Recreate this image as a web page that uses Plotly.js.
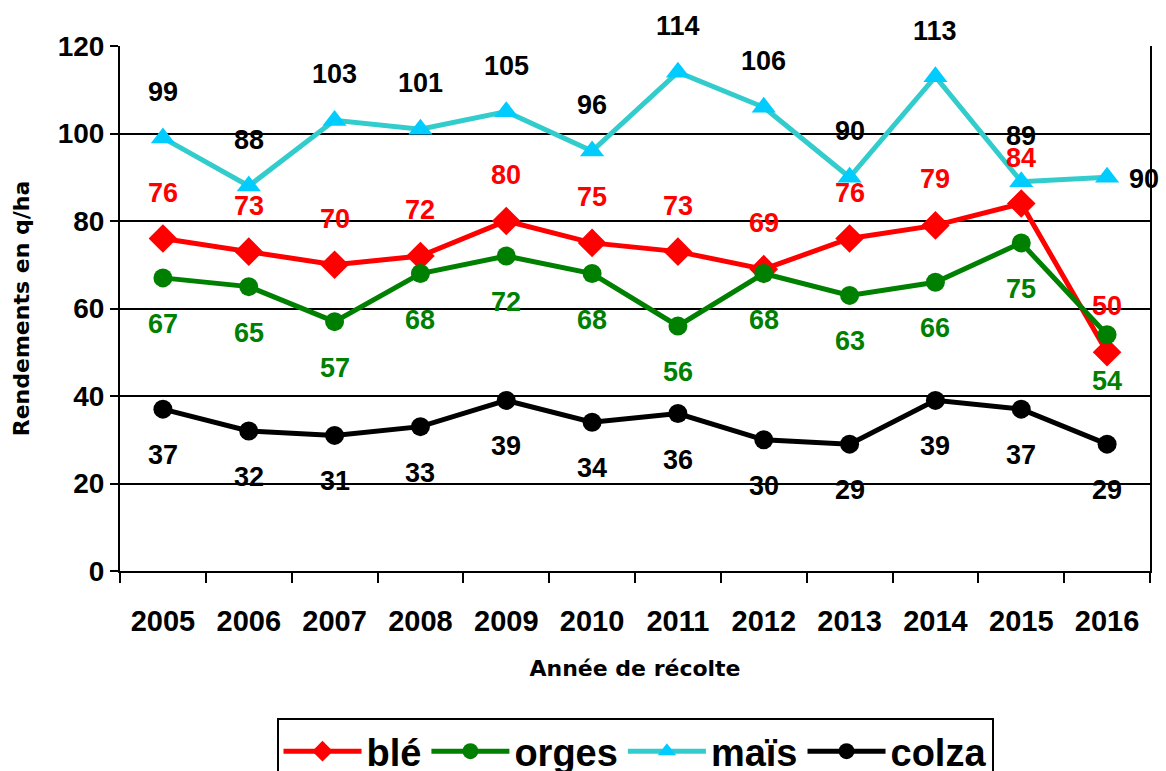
<!DOCTYPE html>
<html>
<head>
<meta charset="utf-8">
<script src="https://cdn.plot.ly/plotly-3.0.1.min.js"></script>
<style>
html,body{margin:0;padding:0;background:#fff;}
#chart{width:1166px;height:771px;}
</style>
</head>
<body>
<div id="chart"></div>
<script>
// ---- data ----
const years = ['2005','2006','2007','2008','2009','2010','2011','2012','2013','2014','2015','2016'];
const ble   = [76,73,70,72,80,75,73,69,76,79,84,50];
const orges = [67,65,57,68,72,68,56,68,63,66,75,54];
const mais  = [99,88,103,101,105,96,114,106,90,113,89,90];
const colza = [37,32,31,33,39,34,36,30,29,39,37,29];
const seriesNames = ['blé','orges','maïs','colza'];

// ---- styles ----
const FONT = 'Liberation Sans, Arial, sans-serif';
const TFONT = 'DejaVu Sans, Verdana, sans-serif';
const LBL = 27;

const traces = [
  {name: seriesNames[0], x: years, y: ble, mode: 'lines+markers',
   line: {color: '#FF0000', width: 5},
   marker: {symbol: 'diamond', size: 22, color: '#FF0000'}},
  {name: seriesNames[1], x: years, y: orges, mode: 'lines+markers',
   line: {color: '#008000', width: 5},
   marker: {symbol: 'circle', size: 19, color: '#008000'}},
  {name: seriesNames[2], x: years, y: mais, mode: 'lines+markers',
   line: {color: '#33CCCC', width: 5},
   marker: {symbol: 'triangle-up', size: 21, color: '#00CCFF'}},
  {name: seriesNames[3], x: years, y: colza, mode: 'lines+markers',
   line: {color: '#000000', width: 5},
   marker: {symbol: 'circle', size: 19, color: '#000000'}}
];

// data labels (annotations on the category axis: x = category serial number)
const annotations = [];
function addLabels(vals, color, shift, lastRight) {
  vals.forEach((v, i) => {
    const isLastRight = lastRight && i === vals.length - 1;
    annotations.push({
      x: i, y: v, xref: 'x', yref: 'y', text: String(v), showarrow: false,
      font: {family: FONT, size: LBL, color: color, weight: 'bold'},
      xanchor: isLastRight ? 'left' : 'center', yanchor: 'middle',
      xshift: isLastRight ? 20 : 0, yshift: isLastRight ? -2 : shift
    });
  });
}
addLabels(mais, '#000000', 46, true);
addLabels(ble, '#FF0000', 46, false);
addLabels(orges, '#008000', -46, false);
addLabels(colza, '#000000', -46, false);

const layout = {
  width: 1166, height: 771,
  margin: {l: 120, r: 16, t: 46, b: 200, autoexpand: false},
  paper_bgcolor: '#fff', plot_bgcolor: '#fff',
  font: {family: FONT, color: '#000'},
  showlegend: true,
  legend: {
    orientation: 'h', x: 0.5, xanchor: 'center', y: -0.28, yanchor: 'top',
    bordercolor: '#000', borderwidth: 2, bgcolor: '#fff',
    font: {family: FONT, size: 38, color: '#000', weight: 'bold'},
    itemwidth: 78, tracegroupgap: 0
  },
  xaxis: {
    type: 'category', tickson: 'boundaries', ticks: 'outside', ticklen: 10, tickcolor: '#000', tickwidth: 2,
    showline: true, linecolor: '#000', linewidth: 2, showgrid: false, zeroline: false,
    tickfont: {family: FONT, size: 29, color: '#000', weight: 'bold'}, tickangle: 0,
    ticklabelstandoff: 23,
    title: {text: 'Année de récolte', font: {family: TFONT, size: 22, color: '#000', weight: 'bold'}, standoff: 25},
    range: [-0.5, 11.5], fixedrange: true
  },
  yaxis: {
    range: [0, 120], dtick: 20, ticks: 'outside', ticklen: 8, tickcolor: '#000', tickwidth: 2,
    showline: true, linecolor: '#000', linewidth: 2, mirror: true,
    showgrid: true, gridcolor: '#000', gridwidth: 1.5, zeroline: false,
    tickfont: {family: FONT, size: 28, color: '#000', weight: 'bold'},
    title: {text: 'Rendements en q/ha', font: {family: TFONT, size: 22, color: '#000', weight: 'bold'}, standoff: 22},
    fixedrange: true
  },
  annotations: annotations
};

Plotly.newPlot('chart', traces, layout, {displayModeBar: false, responsive: false});
</script>
</body>
</html>
